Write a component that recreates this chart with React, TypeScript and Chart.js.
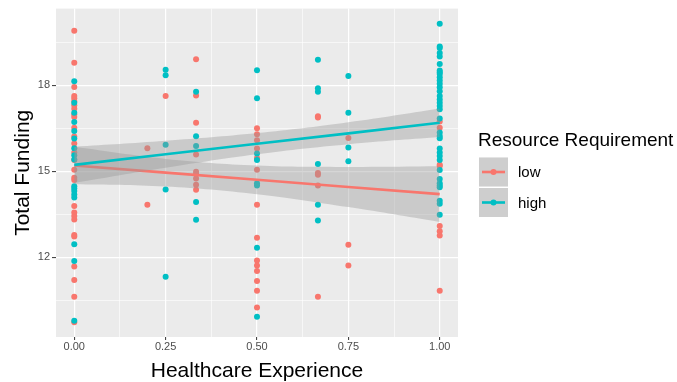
import React, { useEffect, useRef } from "react";
import { Chart, registerables } from "chart.js";

Chart.register(...registerables);

// Healthcare experience levels (x positions of the point columns)
const experienceLevels = [0, 0.2, 0.25, 0.3333, 0.5, 0.6667, 0.75, 1];

// Total funding per level, resource requirement = low
const lowByLevel: number[][] = [
  [19.9, 18.78, 17.94, 17.62, 17.54, 17.44, 17.3, 17.18, 16.98, 16.89, 16.52, 16.21, 15.97, 15.65, 15.39, 15.05, 14.77, 14.69, 13.79, 13.56, 13.44, 13.32, 12.78, 12.72, 11.68, 11.21, 10.62, 9.73],
  [15.8, 13.83],
  [17.62],
  [18.9, 17.64, 16.69, 15.58, 14.98, 14.9, 14.75, 14.53, 14.35],
  [16.5, 16.29, 16.08, 15.79, 15.46, 15.05, 13.83, 12.68, 11.89, 11.71, 11.52, 11.17, 10.83, 10.25],
  [16.92, 16.87, 14.94, 14.88, 14.5, 10.62],
  [16.16, 12.44, 11.71],
  [16.73, 16.52, 15.23, 15.18, 13.09, 12.91, 12.76, 10.83],
];

// Total funding per level, resource requirement = high
const highByLevel: number[][] = [
  [18.14, 17.39, 17.04, 16.72, 16.4, 16.14, 15.8, 15.56, 15.41, 14.48, 14.4, 14.31, 14.19, 14.08, 12.45, 11.87, 9.79],
  [],
  [18.54, 18.35, 15.92, 14.36, 11.32],
  [17.77, 16.22, 15.88, 13.93, 13.31],
  [18.52, 17.54, 15.62, 15.39, 14.58, 14.5, 12.33, 9.93],
  [18.89, 17.89, 17.77, 15.25, 13.83, 13.28],
  [18.32, 17.04, 15.83, 15.35],
  [20.14, 19.35, 19.3, 19.12, 19.0, 18.74, 18.51, 18.45, 18.39, 18.28, 18.16, 18.05, 17.93, 17.79, 17.62, 17.5, 17.39, 17.27, 17.16, 16.84, 16.35, 16.23, 16.15, 15.79, 15.65, 15.53, 15.39, 15.04, 14.73, 14.58, 14.5, 14.44, 13.97, 13.87, 13.48],
];

// Fitted lines and confidence bands
const fitX = [0, 0.25, 0.5, 0.75, 1];
const lowFit = [15.2, 14.95, 14.7, 14.45, 14.2];
const lowUpper = [15.85, 15.43, 15.2, 15.15, 15.17];
const lowLower = [14.55, 14.47, 14.2, 13.75, 13.23];
const highFit = [15.22, 15.59, 15.96, 16.32, 16.69];
const highUpper = [15.85, 16.06, 16.33, 16.71, 17.19];
const highLower = [14.59, 15.12, 15.59, 15.94, 16.19];

// Ticks
const xTickValues = [0, 0.125, 0.25, 0.375, 0.5, 0.625, 0.75, 0.875, 1];
const xTickLabels = ["0.00", "", "0.25", "", "0.50", "", "0.75", "", "1.00"];
const yTickValues = [10.5, 12, 13.5, 15, 16.5, 18, 19.5];
const yTickLabels = ["", "12", "", "15", "", "18", ""];

const seriesNames = ["low", "high"];
const seriesColors = ["#F8766D", "#00BFC4"];

const xTitle = "Healthcare Experience";
const yTitle = "Total Funding";
const legendTitle = "Resource Requirement";

const FONT = '"Liberation Sans", Arial, Helvetica, sans-serif';
const BAND = "rgba(153,153,153,0.4)";

function toPoints(byLevel: number[][]) {
  const pts: { x: number; y: number }[] = [];
  byLevel.forEach((vals, i) => vals.forEach((v) => pts.push({ x: experienceLevels[i], y: v })));
  return pts;
}
function toLine(ys: number[]) {
  return ys.map((y, i) => ({ x: fitX[i], y }));
}

const decorPlugin = {
  id: "decor",
  beforeDraw(chart: any) {
    const { ctx, chartArea } = chart;
    ctx.save();
    ctx.fillStyle = "#FFFFFF";
    ctx.fillRect(0, 0, chart.width, chart.height);
    ctx.fillStyle = "#EBEBEB";
    ctx.fillRect(chartArea.left, chartArea.top, chartArea.right - chartArea.left, chartArea.bottom - chartArea.top);
    ctx.restore();
  },
  afterDraw(chart: any) {
    const { ctx, chartArea } = chart;
    ctx.save();
    ctx.fillStyle = "#000000";
    ctx.font = `21px ${FONT}`;
    ctx.textAlign = "center";
    ctx.textBaseline = "alphabetic";
    ctx.fillText(xTitle, (chartArea.left + chartArea.right) / 2, 377);
    ctx.save();
    ctx.translate(29, (chartArea.top + chartArea.bottom) / 2);
    ctx.rotate(-Math.PI / 2);
    ctx.fillText(yTitle, 0, 0);
    ctx.restore();

    // legend
    ctx.textAlign = "left";
    ctx.font = `19px ${FONT}`;
    ctx.fillText(legendTitle, 478, 146);
    const keyX = 479;
    const keyY0 = 157.5;
    const keyS = 29;
    seriesNames.forEach((name, i) => {
      const y = keyY0 + i * (keyS + 1.5);
      ctx.fillStyle = "#F2F2F2";
      ctx.fillRect(keyX, y, keyS, keyS);
      ctx.fillStyle = BAND;
      ctx.fillRect(keyX, y, keyS, keyS);
      const cy = y + keyS / 2;
      ctx.strokeStyle = seriesColors[i];
      ctx.lineWidth = 2.6;
      ctx.beginPath();
      ctx.moveTo(keyX + 3, cy);
      ctx.lineTo(keyX + keyS - 3, cy);
      ctx.stroke();
      ctx.fillStyle = seriesColors[i];
      ctx.beginPath();
      ctx.arc(keyX + keyS / 2, cy, 3, 0, Math.PI * 2);
      ctx.fill();
      ctx.fillStyle = "#000000";
      ctx.font = `15px ${FONT}`;
      ctx.textBaseline = "middle";
      ctx.fillText(name, 518, cy + 1);
      ctx.textBaseline = "alphabetic";
    });
    ctx.restore();
  },
};

export default function App() {
  const ref = useRef<HTMLCanvasElement | null>(null);
  useEffect(() => {
    if (!ref.current) return;
    const gridWidth = (labels: string[]) => (c: any) => (labels[c.index] ? 1.2 : 0.6);
    const tickColor = (labels: string[]) => (c: any) => (labels[c.index] ? "#333333" : "rgba(0,0,0,0)");
    const chart = new Chart(ref.current, {
      type: "scatter",
      data: {
        datasets: [
          {
            label: "low points",
            data: toPoints(lowByLevel),
            backgroundColor: seriesColors[0],
            borderWidth: 0,
            pointRadius: 3,
            showLine: false,
            order: 10,
          },
          {
            label: "high points",
            data: toPoints(highByLevel),
            backgroundColor: seriesColors[1],
            borderWidth: 0,
            pointRadius: 3,
            showLine: false,
            order: 9,
          },
          {
            type: "line",
            label: "low upper",
            data: toLine(lowUpper),
            borderWidth: 0,
            pointRadius: 0,
            tension: 0.4,
            fill: "+1",
            backgroundColor: BAND,
            order: 8,
          },
          {
            type: "line",
            label: "low lower",
            data: toLine(lowLower),
            borderWidth: 0,
            pointRadius: 0,
            tension: 0.4,
            fill: false,
            order: 8,
          },
          {
            type: "line",
            label: "low fit",
            data: toLine(lowFit),
            borderColor: seriesColors[0],
            borderWidth: 2.6,
            pointRadius: 0,
            fill: false,
            order: 7,
          },
          {
            type: "line",
            label: "high upper",
            data: toLine(highUpper),
            borderWidth: 0,
            pointRadius: 0,
            tension: 0.4,
            fill: "+1",
            backgroundColor: BAND,
            order: 6,
          },
          {
            type: "line",
            label: "high lower",
            data: toLine(highLower),
            borderWidth: 0,
            pointRadius: 0,
            tension: 0.4,
            fill: false,
            order: 6,
          },
          {
            type: "line",
            label: "high fit",
            data: toLine(highFit),
            borderColor: seriesColors[1],
            borderWidth: 2.6,
            pointRadius: 0,
            fill: false,
            order: 5,
          },
        ] as any,
      },
      options: {
        animation: false,
        responsive: false,
        devicePixelRatio: 1,
        events: [],
        layout: { padding: { left: 0, top: 7, right: 219, bottom: 0 } },
        plugins: { legend: { display: false }, tooltip: { enabled: false } },
        scales: {
          x: {
            type: "linear",
            min: -0.05,
            max: 1.05,
            afterBuildTicks: (s: any) => {
              s.ticks = xTickValues.map((v) => ({ value: v }));
            },
            afterFit: (s: any) => {
              s.height = 45;
            },
            ticks: {
              autoSkip: false,
              maxRotation: 0,
              padding: 0,
              color: "#4D4D4D",
              font: { family: FONT, size: 11 },
              callback: (_v: any, i: number) => xTickLabels[i],
            },
            grid: {
              color: "#FFFFFF",
              lineWidth: gridWidth(xTickLabels),
              tickColor: tickColor(xTickLabels),
              tickLength: 3,
              tickWidth: 1,
            },
            border: { display: false },
          },
          y: {
            type: "linear",
            min: 9.22,
            max: 20.67,
            afterBuildTicks: (s: any) => {
              s.ticks = yTickValues.map((v) => ({ value: v }));
            },
            afterFit: (s: any) => {
              s.width = 56;
            },
            ticks: {
              autoSkip: false,
              padding: 2,
              color: "#4D4D4D",
              font: { family: FONT, size: 11 },
              callback: (_v: any, i: number) => yTickLabels[i],
            },
            grid: {
              color: "#FFFFFF",
              lineWidth: gridWidth(yTickLabels),
              tickColor: tickColor(yTickLabels),
              tickLength: 4,
              tickWidth: 1,
            },
            border: { display: false },
          },
        },
      } as any,
      plugins: [decorPlugin],
    });
    return () => chart.destroy();
  }, []);
  return (
    <div style={{ position: "absolute", left: 0, top: 0, width: 677, height: 382 }}>
      <canvas ref={ref} width={677} height={382} style={{ display: "block" }} />
    </div>
  );
}
